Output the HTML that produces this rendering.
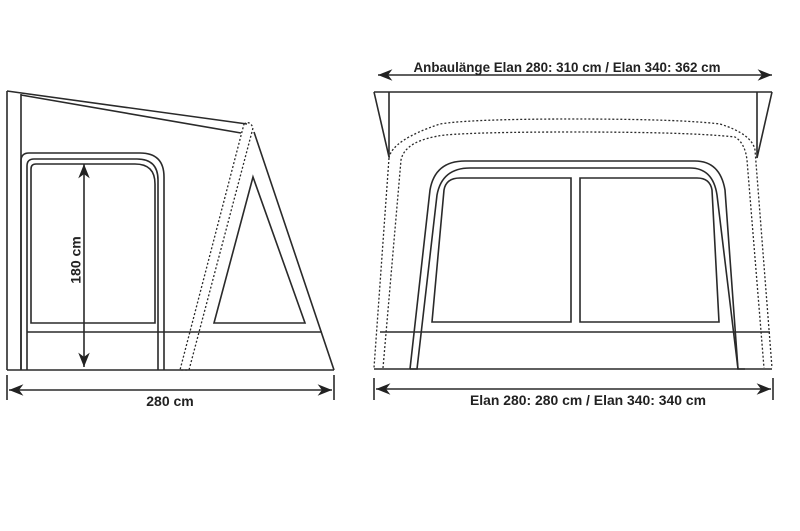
<!DOCTYPE html>
<html><head><style>body{margin:0;background:#fff}svg{display:block}text{font-family:"Liberation Sans",sans-serif;font-weight:bold;fill:#222}</style></head>
<body>
<svg width="800" height="531" viewBox="0 0 800 531" xmlns="http://www.w3.org/2000/svg">
<defs><marker id="a" viewBox="0 0 10 10" refX="10" refY="5" markerWidth="9" markerHeight="9" orient="auto-start-reverse"><path d="M0,1 L10,5 L0,9 L3,5z" fill="#222"/></marker></defs>
<g fill="none" stroke="#2a2a2a" stroke-width="1.6">
<line x1="7" y1="91" x2="7" y2="370"/>
<line x1="21" y1="94" x2="21" y2="370"/>
<line x1="7" y1="91" x2="247" y2="124"/>
<line x1="21" y1="95" x2="241" y2="133"/>
<line x1="7" y1="370" x2="334" y2="370"/>
<line x1="254" y1="132" x2="334" y2="370"/>
<path d="M244,124 Q250,120 253,128 L189,370 L180,370 Z" stroke-dasharray="2,2" stroke-width="1.3"/>
<path d="M21,370 V161 Q21,153 29,153 H140 Q164,153 164,177 V370"/>
<path d="M27,370 V166 Q27,159 34,159 H137 Q158,159 158,180 V370"/>
<path d="M31,323 V169 Q31,164 36,164 H135 Q155,164 155,184 V323 Z"/>
<line x1="27" y1="332" x2="322" y2="332"/>
<path d="M253,177 L305,323 L214,323 Z"/>
<line x1="84" y1="164" x2="84" y2="367" marker-start="url(#a)" marker-end="url(#a)"/>
<line x1="7" y1="375" x2="7" y2="400"/><line x1="334" y1="375" x2="334" y2="400"/>
<line x1="9" y1="390" x2="332" y2="390" marker-start="url(#a)" marker-end="url(#a)"/>
<line x1="374" y1="92" x2="772" y2="92"/>
<path d="M374,92 L389,157 L389,92"/>
<path d="M772,92 L757,158 L757,92"/>
<line x1="374" y1="369" x2="772" y2="369"/>
<line x1="380" y1="332" x2="770" y2="332"/>
<path d="M389,158 Q392,140 440,124 Q470,119 573,119 Q680,119 720,124 Q752,134 755,150 L772,368" stroke-dasharray="2,2" stroke-width="1.3"/>
<path d="M389,158 L374,368" stroke-dasharray="2,2" stroke-width="1.3"/>
<path d="M383,368 L401,160 Q405,140 445,135 Q480,132 573,132 Q690,132 735,137 Q745,143 747,160 L764,368" stroke-dasharray="2,2" stroke-width="1.3"/>
<path d="M410,369 L430,190 Q435,161 465,161 H695 Q720,161 725,190 L738,369 L745,369"/>
<path d="M410,369 L417,369 L437,195 Q442,168 470,168 H690 Q713,168 717,195 L738,369"/>
<path d="M432,322 L444,190 Q446,178 460,178 H571 V322 Z"/>
<path d="M580,178 H697 Q710,178 712,190 L719,322 H580 Z"/>
<line x1="374" y1="378" x2="374" y2="400"/><line x1="773" y1="378" x2="773" y2="400"/>
<line x1="376" y1="389" x2="771" y2="389" marker-start="url(#a)" marker-end="url(#a)"/>
<line x1="378" y1="75" x2="772" y2="75" marker-start="url(#a)" marker-end="url(#a)"/>
</g>
<text x="77" y="260" font-size="14" text-anchor="middle" transform="rotate(-90 77 260)" dominant-baseline="middle">180 cm</text>
<text x="170" y="406" font-size="14" text-anchor="middle">280 cm</text>
<text x="567" y="72" font-size="13.5" text-anchor="middle" textLength="307" lengthAdjust="spacingAndGlyphs">Anbaulänge Elan 280: 310 cm / Elan 340: 362 cm</text>
<text x="588" y="405" font-size="14" text-anchor="middle" textLength="236" lengthAdjust="spacingAndGlyphs">Elan 280: 280 cm / Elan 340:  340 cm</text>
</svg>
</body></html>
